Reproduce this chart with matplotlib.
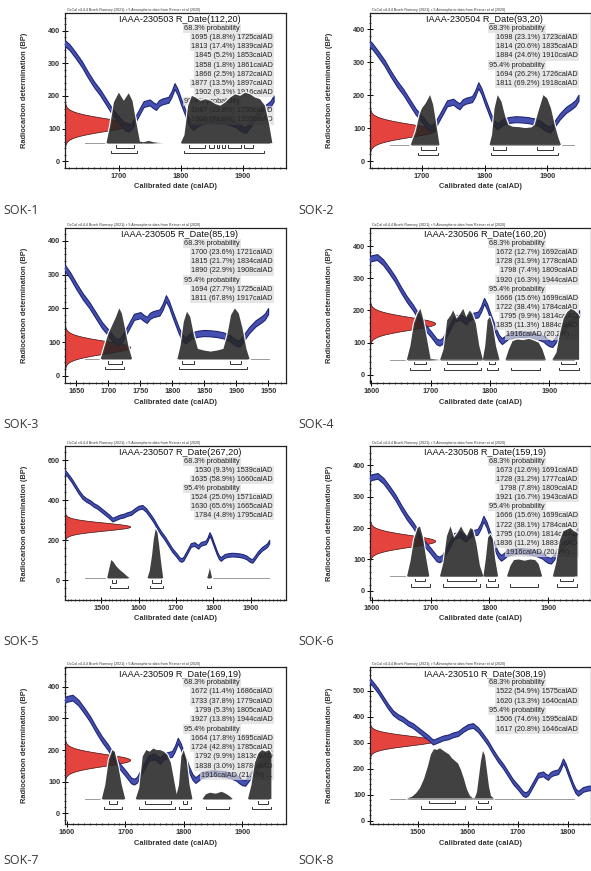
import numpy as np
import matplotlib.pyplot as plt
from matplotlib.ticker import MultipleLocator

plt.rcParams['font.family'] = ['Liberation Sans', 'DejaVu Sans']

# IntCal20 calibration curve (calAD, BP)
curve_year = [1400, 1410, 1420, 1430, 1440, 1450, 1460, 1470, 1480, 1490, 1500, 1510, 1520, 1530,
              1540, 1550, 1560, 1570, 1580, 1590, 1600, 1610, 1620, 1630, 1640, 1650, 1660, 1670,
              1680, 1690, 1700, 1710, 1715, 1720, 1730, 1740, 1750, 1755, 1760, 1765, 1770, 1780,
              1785, 1790, 1795, 1800, 1805, 1810, 1815, 1820, 1825, 1830, 1840, 1850, 1860, 1870,
              1880, 1890, 1895, 1900, 1905, 1910, 1920, 1930, 1940, 1945, 1950]
curve_bp = [548, 525, 500, 470, 440, 415, 400, 390, 375, 365, 350, 335, 320, 302,
            310, 318, 322, 330, 335, 350, 362, 366, 350, 325, 298, 265, 235, 210,
            180, 150, 128, 104, 100, 106, 140, 175, 180, 172, 166, 178, 183, 188,
            205, 230, 212, 185, 160, 135, 115, 105, 112, 120, 125, 127, 126, 124,
            120, 112, 104, 98, 96, 108, 135, 155, 168, 176, 192]
curve_err = 9

# ---- SOK-1
sok1_lab = 'IAAA-230503'
sok1_date = (112, 20)
sok1_base = 55
sok1_dx = [1680, 1686, 1692, 1700, 1708, 1716, 1722, 1728, 1734, 1740, 1748, 1756, 1764, 1772, 1800,
           1806, 1812, 1818, 1824, 1832, 1840, 1848, 1856, 1864, 1872, 1880, 1888, 1896, 1904, 1912,
           1920, 1928, 1936, 1942, 1948]
sok1_dy = [55, 110, 180, 210, 185, 208, 185, 120, 60, 58, 62, 58, 56, 55, 55,
           80, 170, 200, 195, 185, 190, 185, 175, 170, 180, 195, 205, 200, 210, 205,
           195, 190, 170, 120, 55]
sok1_r68 = [(1695, 18.8, 1725), (1813, 17.4, 1839), (1845, 5.2, 1853), (1858, 1.8, 1861),
            (1866, 2.5, 1872), (1877, 13.5, 1897), (1902, 9.1, 1916)]
sok1_r95 = [(1687, 23.8, 1730), (1806, 71.6, 1935)]

# ---- SOK-2
sok2_lab = 'IAAA-230504'
sok2_date = (93, 20)
sok2_base = 49
sok2_dx = [1682, 1690, 1696, 1700, 1706, 1713, 1718, 1723, 1728, 1808, 1812, 1816, 1821, 1827, 1833,
           1838, 1845, 1855, 1865, 1875, 1880, 1886, 1894, 1900, 1906, 1912, 1918, 1922]
sok2_dy = [49, 90, 140, 160, 175, 200, 170, 110, 49, 49, 80, 160, 200, 180, 135,
           110, 104, 103, 100, 102, 110, 150, 200, 190, 160, 110, 70, 49]
sok2_r68 = [(1698, 23.1, 1723), (1814, 20.6, 1835), (1884, 24.6, 1910)]
sok2_r95 = [(1694, 26.2, 1726), (1811, 69.2, 1918)]

# ---- SOK-3
sok3_lab = 'IAAA-230505'
sok3_date = (85, 19)
sok3_base = 50
sok3_dx = [1688, 1695, 1700, 1706, 1712, 1717, 1721, 1726, 1731, 1737, 1808, 1813, 1818, 1823, 1828,
           1834, 1840, 1850, 1860, 1870, 1880, 1886, 1892, 1898, 1904, 1910, 1916, 1921]
sok3_dy = [50, 95, 125, 150, 175, 200, 185, 140, 90, 50, 50, 90, 160, 190, 175,
           120, 80, 75, 72, 75, 80, 120, 180, 200, 185, 140, 80, 50]
sok3_r68 = [(1700, 23.6, 1721), (1815, 21.7, 1834), (1890, 22.9, 1908)]
sok3_r95 = [(1694, 27.7, 1725), (1811, 67.8, 1917)]

# ---- SOK-4
sok4_lab = 'IAAA-230506'
sok4_date = (160, 20)
sok4_base = 47
sok4_dx = [1660, 1666, 1672, 1678, 1683, 1688, 1694, 1700, 1716, 1722, 1728, 1734, 1738, 1744, 1750,
           1755, 1760, 1766, 1770, 1776, 1782, 1788, 1792, 1796, 1800, 1805, 1810, 1816, 1826, 1832,
           1838, 1846, 1856, 1866, 1876, 1882, 1888, 1894, 1905, 1912, 1918, 1924, 1930, 1936, 1942,
           1948, 1950]
sok4_dy = [47, 90, 160, 190, 205, 170, 110, 50, 47, 80, 170, 185, 200, 175, 190,
           205, 180, 200, 190, 160, 90, 47, 90, 170, 180, 150, 90, 47, 47, 80,
           105, 110, 108, 112, 105, 100, 80, 47, 47, 70, 130, 175, 195, 205, 200,
           190, 185]
sok4_r68 = [(1672, 12.7, 1692), (1728, 31.9, 1778), (1798, 7.4, 1809), (1920, 16.3, 1944)]
sok4_r95 = [(1666, 15.6, 1699), (1722, 38.4, 1784), (1795, 9.9, 1814), (1835, 11.3, 1884),
            (1916, 20.2, None)]

# ---- SOK-5
sok5_lab = 'IAAA-230507'
sok5_date = (267, 20)
sok5_base = 10
sok5_dx = [1516, 1522, 1527, 1532, 1540, 1550, 1560, 1570, 1576, 1624, 1630, 1636, 1641, 1646, 1651,
           1656, 1661, 1666, 1784, 1788, 1791, 1794, 1797]
sok5_dy = [10, 60, 100, 92, 70, 50, 35, 18, 10, 10, 45, 120, 205, 255, 235,
           160, 80, 10, 10, 35, 60, 35, 10]
sok5_r68 = [(1530, 9.3, 1539), (1635, 58.9, 1660)]
sok5_r95 = [(1524, 25.0, 1571), (1630, 65.6, 1665), (1784, 4.8, 1795)]

# ---- SOK-6
sok6_lab = 'IAAA-230508'
sok6_date = (159, 19)
sok6_base = 46
sok6_dx = [1660, 1666, 1672, 1678, 1682, 1687, 1692, 1698, 1716, 1722, 1728, 1734, 1740, 1746, 1752,
           1756, 1762, 1768, 1772, 1778, 1784, 1790, 1794, 1798, 1802, 1806, 1810, 1815, 1830, 1836,
           1842, 1850, 1860, 1870, 1878, 1884, 1890, 1908, 1914, 1920, 1926, 1932, 1938, 1944, 1950]
sok6_dy = [46, 95, 165, 200, 205, 170, 110, 46, 46, 90, 175, 205, 170, 185, 205,
           190, 175, 200, 195, 150, 80, 46, 100, 170, 180, 165, 100, 46, 46, 80,
           98, 100, 96, 100, 98, 85, 46, 46, 90, 160, 190, 195, 200, 190, 185]
sok6_r68 = [(1673, 12.6, 1691), (1728, 31.2, 1777), (1798, 7.8, 1809), (1921, 16.7, 1943)]
sok6_r95 = [(1666, 15.6, 1699), (1722, 38.1, 1784), (1795, 10.0, 1814), (1836, 11.2, 1883),
            (1916, 20.5, None)]

# ---- SOK-7
sok7_lab = 'IAAA-230509'
sok7_date = (169, 19)
sok7_base = 45
sok7_dx = [1660, 1666, 1672, 1678, 1682, 1688, 1694, 1700, 1718, 1724, 1730, 1736, 1742, 1748, 1754,
           1760, 1766, 1772, 1778, 1784, 1788, 1792, 1796, 1800, 1805, 1810, 1815, 1832, 1838, 1845,
           1855, 1865, 1872, 1878, 1884, 1910, 1916, 1922, 1928, 1934, 1940, 1946, 1950]
sok7_dy = [45, 90, 170, 200, 195, 150, 90, 45, 45, 80, 180, 200, 195, 205, 200,
           200, 195, 185, 160, 100, 60, 90, 180, 200, 170, 90, 45, 45, 60, 65,
           62, 68, 62, 55, 45, 45, 90, 160, 190, 200, 195, 200, 190]
sok7_r68 = [(1672, 11.4, 1686), (1733, 37.8, 1779), (1799, 5.3, 1805), (1927, 13.8, 1944)]
sok7_r95 = [(1664, 17.8, 1695), (1724, 42.8, 1785), (1792, 9.9, 1813), (1838, 3.0, 1878),
            (1916, 21.9, None)]

# ---- SOK-8
sok8_lab = 'IAAA-230510'
sok8_date = (308, 19)
sok8_base = 85
sok8_dx = [1478, 1488, 1496, 1504, 1512, 1520, 1526, 1532, 1538, 1544, 1550, 1556, 1562, 1568, 1574,
           1580, 1586, 1592, 1598, 1604, 1610, 1614, 1618, 1622, 1626, 1630, 1634, 1638, 1642, 1646,
           1652]
sok8_dy = [85, 92, 105, 125, 160, 210, 255, 275, 272, 278, 270, 262, 255, 240, 230,
           220, 195, 160, 120, 95, 86, 88, 110, 170, 230, 268, 250, 190, 130, 95,
           85]
sok8_r68 = [(1522, 54.9, 1575), (1620, 13.3, 1640)]
sok8_r95 = [(1506, 74.6, 1595), (1617, 20.8, 1646)]

# axis setup per panel: xlim, ylim, x major step, y major step
panels = [
    ('SOK-1', sok1_lab, sok1_date, sok1_base, sok1_dx, sok1_dy, sok1_r68, sok1_r95,
     (1613, 1970), (-21, 454), 100, 100),
    ('SOK-2', sok2_lab, sok2_date, sok2_base, sok2_dx, sok2_dy, sok2_r68, sok2_r95,
     (1617, 1970), (-21, 449), 100, 100),
    ('SOK-3', sok3_lab, sok3_date, sok3_base, sok3_dx, sok3_dy, sok3_r68, sok3_r95,
     (1632, 1978), (-21, 438), 50, 100),
    ('SOK-4', sok4_lab, sok4_date, sok4_base, sok4_dx, sok4_dy, sok4_r68, sok4_r95,
     (1598, 1970), (-25, 456), 100, 100),
    ('SOK-5', sok5_lab, sok5_date, sok5_base, sok5_dx, sok5_dy, sok5_r68, sok5_r95,
     (1403, 1995), (-100, 670), 100, 200),
    ('SOK-6', sok6_lab, sok6_date, sok6_base, sok6_dx, sok6_dy, sok6_r68, sok6_r95,
     (1597, 1973), (-29, 461), 100, 100),
    ('SOK-7', sok7_lab, sok7_date, sok7_base, sok7_dx, sok7_dy, sok7_r68, sok7_r95,
     (1597, 1975), (-34, 463), 100, 100),
    ('SOK-8', sok8_lab, sok8_date, sok8_base, sok8_dx, sok8_dy, sok8_r68, sok8_r95,
     (1404, 1846), (-13, 591), 100, 100),
]

W, H = 591, 871
fig = plt.figure(figsize=(W / 100, H / 100), dpi=100)

col_x = [65, 370]
rows = [(13, 168), (228, 383), (446, 600), (667, 824)]
cap_y = [210, 424, 641, 860]
TXT = '#222222'


def range_text(a, p, b):
    if b is None:
        return f'{a}calAD ({p}%) ...'
    return f'{a} ({p}%) {b}calAD'


def draw_bracket(ax, a, b, y, h):
    tr = ax.get_xaxis_transform()
    ax.plot([a, a, b, b], [y + h, y, y, y + h], color='#333333', lw=0.7,
            transform=tr, zorder=6, solid_joinstyle='miter')


for i, (name, lab, (mu, sd), base, dx, dy, r68, r95, xlim, ylim, xstep, ystep) in enumerate(panels):
    col, row = i % 2, i // 2
    top, bot = rows[row]
    ax = fig.add_axes([col_x[col] / W, 1 - bot / H, 221 / W, (bot - top) / H])
    ax.set_xlim(xlim)
    ax.set_ylim(ylim)

    # measured date (red)
    yy = np.linspace(mu - 3.5 * sd, mu + 3.5 * sd, 150)
    pdf = np.exp(-0.5 * ((yy - mu) / sd) ** 2)
    w = 0.295 * (xlim[1] - xlim[0])
    ax.fill_betweenx(yy, xlim[0], xlim[0] + w * pdf, facecolor='#e5433e',
                     edgecolor='#401010', lw=0.5, zorder=2)

    # calibration curve
    cy = np.array(curve_year)
    cb = np.array(curve_bp)
    ax.fill_between(cy, cb - curve_err, cb + curve_err, facecolor='#4650b0',
                    edgecolor='#1e2775', lw=0.8, zorder=3)

    # text block
    ax.text(0.52, 0.955, f'{lab} R_Date({mu},{sd})', transform=ax.transAxes,
            ha='center', va='center', fontsize=6.6, color='#111111', zorder=4)
    ax.text(0.01, 1.006, 'OxCal v4.4.4 Bronk Ramsey (2021); r:5 Atmospheric data from Reimer et al (2020)',
            transform=ax.transAxes, ha='left', va='bottom', fontsize=2.6, color='#333333')
    lines = [('68.3% probability', 'h')] + [(range_text(*r), 'r') for r in r68] + \
            [('95.4% probability', 'h')] + [(range_text(*r), 'r') for r in r95]
    box = dict(boxstyle='square,pad=0.15', facecolor='#dcdcdc', edgecolor='none', alpha=0.7)
    for k, (s, kind) in enumerate(lines):
        yk = 0.90 - k * 0.059
        if kind == 'h':
            ax.text(0.54, yk, s, transform=ax.transAxes, ha='left', va='center',
                    fontsize=5.2, color=TXT, bbox=box, zorder=4)
        else:
            ax.text(0.94, yk, s, transform=ax.transAxes, ha='right', va='center',
                    fontsize=5.2, color=TXT, bbox=box, zorder=4)

    # calibrated distribution
    ax.plot([0.09, 0.925], [base, base], color='#8a8a8a', lw=0.6,
            transform=ax.get_yaxis_transform(), zorder=3.5)
    ax.plot(dx, dy, color='white', lw=1.6, zorder=4.5)
    ax.fill_between(dx, base, dy, facecolor='#262626', edgecolor='none', alpha=0.88, zorder=5)

    # range brackets
    yb = (base - ylim[0]) / (ylim[1] - ylim[0])
    for a, p, b in r68:
        draw_bracket(ax, a, b, yb - 0.03, 0.016)
    for a, p, b in r95:
        draw_bracket(ax, a, 1950 if b is None else b, yb - 0.066, 0.016)

    # axes styling
    ax.xaxis.set_major_locator(MultipleLocator(xstep))
    ax.xaxis.set_minor_locator(MultipleLocator(10))
    ax.yaxis.set_major_locator(MultipleLocator(ystep))
    ax.yaxis.set_minor_locator(MultipleLocator(ystep / 5))
    ax.tick_params(which='major', direction='inout', length=4, width=0.7, pad=1.5,
                   labelsize=5.2, labelcolor='#333333')
    ax.tick_params(which='minor', direction='inout', length=2, width=0.5)
    for lbl in ax.get_xticklabels() + ax.get_yticklabels():
        lbl.set_fontweight('bold')
    for sp in ax.spines.values():
        sp.set_linewidth(0.9)
        sp.set_color('#222222')
    ax.set_xlabel('Calibrated date (calAD)', fontsize=5.4, fontweight='bold', color='#333333')
    ax.set_ylabel('Radiocarbon determination (BP)', fontsize=5.4, fontweight='bold', color='#333333')
    ax.xaxis.set_label_coords(0.5, -0.1)
    ax.yaxis.set_label_coords(-0.167, 0.5)

    fig.text((3 if col == 0 else 298) / W, 1 - cap_y[row] / H, name, ha='left', va='center',
             fontsize=9, color='#3a3a3a', family=['Open Sans', 'DejaVu Sans'])

fig.savefig('out.png', dpi=100)
